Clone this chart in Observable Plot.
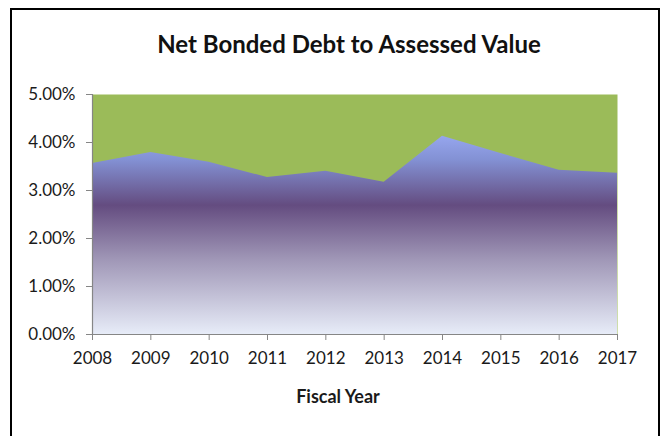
<!DOCTYPE html>
<html><head><meta charset="utf-8">
<script src="https://cdn.jsdelivr.net/npm/d3@7"></script>
<script src="https://cdn.jsdelivr.net/npm/@observablehq/plot@0.6"></script>
<style>
html,body{margin:0;padding:0;background:#fff;}
#wrap{position:relative;width:661px;height:436px;overflow:hidden;background:#fff;}
#border{position:absolute;left:10px;top:8px;width:650px;height:450px;border:2.5px solid #000;box-sizing:border-box;}
#chart{position:absolute;left:0;top:0;}
</style>
</head><body>
<div id="wrap"><div id="border"></div><div id="chart"></div></div>
<script>
const titleText = "Net Bonded Debt to Assessed Value";
const xLabel = "Fiscal Year";
const years = [2008, 2009, 2010, 2011, 2012, 2013, 2014, 2015, 2016, 2017];
const values = [3.56, 3.79, 3.59, 3.27, 3.40, 3.17, 4.13, 3.77, 3.42, 3.36]; // percent
const yTicks = [0, 1, 2, 3, 4, 5];

const data = years.map((year, i) => ({year, value: values[i]}));

const chart = Plot.plot({
  width: 661,
  height: 436,
  marginLeft: 92,
  marginRight: 44,
  marginTop: 94,
  marginBottom: 102,
  style: {fontFamily: "Lato, sans-serif", fontSize: "16px", color: "#1a1a1a", background: "transparent"},
  x: {domain: [2008, 2017], label: null},
  y: {domain: [0, 5], label: null},
  marks: [
    Plot.frame({fill: "#9bbb59", stroke: null}),
    Plot.areaY(data, {x: "year", y: "value", fill: "url(#debtGrad)"}),
    Plot.ruleY([0], {stroke: "#868686", strokeWidth: 1.2}),
    Plot.ruleX([2008], {stroke: "#868686", strokeWidth: 1.2}),
    Plot.axisX(years, {tickSize: 6, tickPadding: 11, tickFormat: d => String(d), stroke: "#868686", fill: "#1a1a1a", fontSize: 17, label: null}),
    Plot.axisY(yTicks, {tickSize: 6, tickPadding: 11, tickFormat: d => d.toFixed(2) + "%", stroke: "#868686", fill: "#1a1a1a", fontSize: 17, label: null}),
    Plot.text([titleText], {frameAnchor: "top", lineAnchor: "middle", dy: -49, dx: -6, fontSize: 24, fontWeight: "bold", fill: "#111"}),
    Plot.text([xLabel], {frameAnchor: "bottom", lineAnchor: "middle", dy: 63, dx: -17, fontSize: 18, fontWeight: "bold", fill: "#1a1a1a"})
  ]
});

const ys = chart.scale("y");
const yTop = ys.apply(d3.max(values));
const yBot = ys.apply(0);
const svg = d3.select(chart);
const defs = svg.insert("defs", ":first-child");
const grad = defs.append("linearGradient")
  .attr("id", "debtGrad")
  .attr("gradientUnits", "userSpaceOnUse")
  .attr("x1", 0).attr("x2", 0)
  .attr("y1", yTop).attr("y2", yBot);
[[0, "#96a6ee"], [0.12, "#8391d4"], [0.35, "#644c80"], [0.62, "#9f96b6"], [1, "#e7ecf8"]].forEach(([o, c]) => {
  grad.append("stop").attr("offset", o).attr("stop-color", c);
});

document.getElementById("chart").appendChild(chart);
</script>
</body></html>
